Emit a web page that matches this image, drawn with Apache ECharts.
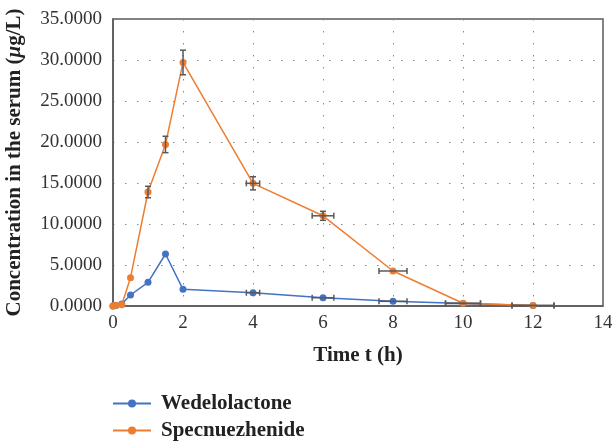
<!DOCTYPE html>
<html>
<head>
<meta charset="utf-8">
<script src="https://cdn.jsdelivr.net/npm/echarts@6/dist/echarts.min.js"></script>
<style>
  html, body { margin: 0; padding: 0; background: #fff; }
  #main { width: 612px; height: 443px; }
</style>
</head>
<body>
<div id="main"></div>
<script>
// sampling times (h)
var times = [0, 0.083, 0.25, 0.5, 1, 1.5, 2, 4, 6, 8, 10, 12];
var wedelolactone = [0, 0.05, 0.25, 1.34, 2.89, 6.34, 2.03, 1.62, 1.01, 0.57, 0.3, 0.05];
var specnuezhenide = [0, 0.1, 0.16, 3.45, 13.9, 19.7, 29.7, 14.96, 11.0, 4.27, 0.33, 0.05];
// error bars
var specErrY = [0, 0, 0, 0, 0.7, 1.0, 1.5, 0.8, 0.55, 0, 0, 0];
var timeErr = [0, 0, 0, 0, 0, 0, 0, 0.19, 0.31, 0.4, 0.5, 0.6];

var chart = echarts.init(document.getElementById('main'));
var serif = 'Liberation Serif';
var errColor = '#595959';

function pairs(ys) {
  return times.map(function (t, i) { return [t, ys[i]]; });
}
function errData(ys, yErr) {
  return times.map(function (t, i) { return [t, ys[i], yErr ? yErr[i] : 0, timeErr[i]]; });
}

function renderErr(params, api) {
  var x = api.value(0), y = api.value(1), ey = api.value(2), ex = api.value(3);
  var kids = [];
  var st = { stroke: errColor, lineWidth: 1.5 };
  var cap = 3;
  if (ey > 0) {
    var a = api.coord([x, y - ey]), b = api.coord([x, y + ey]);
    kids.push({ type: 'line', shape: { x1: a[0], y1: a[1], x2: b[0], y2: b[1] }, style: st });
    kids.push({ type: 'line', shape: { x1: a[0] - cap, y1: a[1], x2: a[0] + cap, y2: a[1] }, style: st });
    kids.push({ type: 'line', shape: { x1: b[0] - cap, y1: b[1], x2: b[0] + cap, y2: b[1] }, style: st });
  }
  if (ex > 0) {
    var c = api.coord([x - ex, y]), d = api.coord([x + ex, y]);
    kids.push({ type: 'line', shape: { x1: c[0], y1: c[1], x2: d[0], y2: d[1] }, style: st });
    kids.push({ type: 'line', shape: { x1: c[0], y1: c[1] - cap, x2: c[0], y2: c[1] + cap }, style: st });
    kids.push({ type: 'line', shape: { x1: d[0], y1: d[1] - cap, x2: d[0], y2: d[1] + cap }, style: st });
  }
  return { type: 'group', children: kids };
}

var option = {
  animation: false,
  textStyle: { fontFamily: serif },
  grid: {
    left: 113, right: 9, top: 19, bottom: 137,
    outerBoundsMode: 'none',
    show: true, borderColor: '#595959', borderWidth: 1.5
  },
  legend: {
    orient: 'vertical',
    left: 112, top: 393, padding: 0,
    itemWidth: 38, itemHeight: 10, itemGap: 6,
    textStyle: { fontFamily: serif, fontSize: 21, fontWeight: 'bold', color: '#222', padding: [0, 0, 0, 5] },
    data: ['Wedelolactone', 'Specnuezhenide']
  },
  xAxis: {
    type: 'value', min: 0, max: 14, interval: 2,
    name: 'Time t (h)', nameLocation: 'middle', nameGap: 39,
    nameTextStyle: { fontFamily: serif, fontSize: 21, fontWeight: 'bold', color: '#222' },
    axisLine: { lineStyle: { color: '#595959', width: 1.5 } },
    axisTick: { show: false },
    axisLabel: { fontFamily: serif, fontSize: 19, color: '#333', margin: 8 },
    splitLine: { show: true, lineStyle: { color: '#888', type: [1.5, 10.5], width: 1 } }
  },
  yAxis: {
    type: 'value', min: 0, max: 35, interval: 5,
    name: '{b|Concentration in the serum (}{i|μ}{b|g/L)}',
    nameLocation: 'middle', nameGap: 88,
    nameTextStyle: {
      rich: {
        b: { fontFamily: serif, fontSize: 21, fontWeight: 'bold', color: '#222' },
        i: { fontFamily: serif, fontSize: 21, fontWeight: 'bold', fontStyle: 'italic', color: '#222' }
      }
    },
    axisLine: { show: true, lineStyle: { color: '#595959', width: 1.5 } },
    axisTick: { show: false },
    axisLabel: {
      fontFamily: serif, fontSize: 19, color: '#333', margin: 11,
      formatter: function (v) { return v.toFixed(4); }
    },
    splitLine: { show: true, lineStyle: { color: '#888', type: [1.5, 10.5], width: 1 } }
  },
  series: [
    {
      name: 'Wedelolactone', type: 'line', data: pairs(wedelolactone),
      color: '#4472C4', symbol: 'circle', symbolSize: 7,
      lineStyle: { width: 1.5 }, z: 3
    },
    {
      name: 'Specnuezhenide', type: 'line', data: pairs(specnuezhenide),
      color: '#ED7D31', symbol: 'circle', symbolSize: 7,
      lineStyle: { width: 1.5 }, z: 4
    },
    {
      type: 'custom', renderItem: renderErr, data: errData(wedelolactone, null),
      encode: { x: 0, y: 1 }, z: 5, silent: true
    },
    {
      type: 'custom', renderItem: renderErr, data: errData(specnuezhenide, specErrY),
      encode: { x: 0, y: 1 }, z: 5, silent: true
    }
  ]
};
chart.setOption(option);
</script>
</body>
</html>
